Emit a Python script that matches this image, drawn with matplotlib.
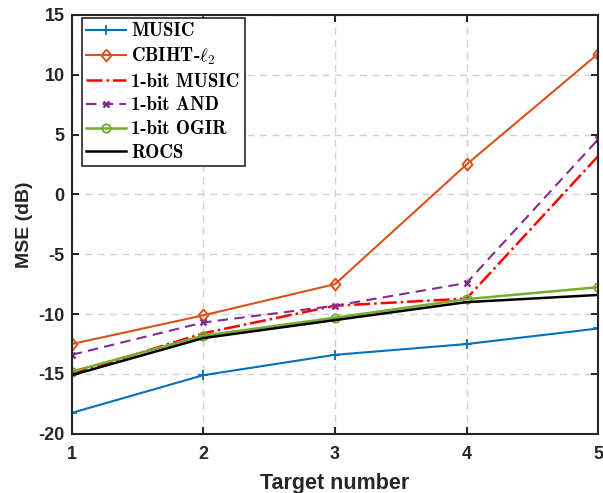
import matplotlib
matplotlib.use("Agg")
import matplotlib.pyplot as plt

plt.rcParams['mathtext.fontset'] = 'cm'
plt.rcParams['axes.unicode_minus'] = False

targets = [1, 2, 3, 4, 5]
mse_music = [-18.25, -15.1, -13.4, -12.5, -11.2]
mse_cbiht = [-12.5, -10.1, -7.5, 2.5, 11.75]
mse_1bit_music = [-15.0, -11.6, -9.3, -8.7, 3.2]
mse_1bit_and = [-13.4, -10.7, -9.3, -7.4, 4.6]
mse_1bit_ogir = [-14.8, -11.8, -10.3, -8.75, -7.75]
mse_rocs = [-15.1, -12.0, -10.5, -9.0, -8.4]

# matlab style diamond
diamond = [(0, 1), (0.85, 0), (0, -1), (-0.85, 0), (0, 1)]

fig = plt.figure(figsize=(6.03, 4.93), dpi=100)
ax = fig.add_axes([0.119, 0.12, 0.873, 0.850])

ax.plot(targets, mse_music, color='#0072BD', marker='+', ms=7, mew=1.3, lw=1.5, label='MUSIC')
ax.plot(targets, mse_cbiht, color='#D95319', marker=diamond, ms=8.5, mfc='none', mew=1.4, lw=1.5,
        label=r'CBIHT-$\ell_2$')
ax.plot(targets, mse_1bit_music, color='red', ls='-.', lw=1.8, label='1-bit MUSIC')
ax.plot(targets, mse_1bit_and, color='#7E2F8E', ls=(0, (5, 3)), marker='x', ms=5, mew=1.8, lw=1.5,
        label='1-bit AND')
ax.plot(targets, mse_1bit_ogir, color='#77AC30', marker='o', ms=6, mfc='none', mew=1.4, lw=1.8,
        label='1-bit OGIR')
ax.plot(targets, mse_rocs, color='black', lw=1.8, label='ROCS')

ax.set_xlim(1, 5)
ax.set_ylim(-20, 15)
ax.set_xticks(targets)
ax.set_yticks(range(-20, 16, 5))
ax.grid(True, ls=(0, (5, 4)), color='#d0d0d0', lw=1)
ax.tick_params(direction='in', top=True, right=True, length=5, width=1.2, labelsize=13,
               labelcolor='#262626')
ax.tick_params(axis='x', pad=9)
ax.tick_params(axis='y', pad=5)
for lab in ax.get_xticklabels() + ax.get_yticklabels():
    lab.set_fontweight('bold')
    lab.set_family('Liberation Sans')
for sp in ax.spines.values():
    sp.set_linewidth(1.5)
    sp.set_color('#262626')

ax.set_xlabel('Target number', fontsize=15.5, fontweight='bold', family='Liberation Sans',
              color='#262626', labelpad=7)
ax.set_ylabel('MSE (dB)', fontsize=14, fontweight='bold', family='Liberation Sans',
              color='#262626', labelpad=4)

leg = ax.legend(loc='upper left', bbox_to_anchor=(0.019, 0.993),
                prop={'family': ['cmb10', 'DejaVu Serif'], 'size': 13.5},
                frameon=True, fancybox=False, edgecolor='#262626', framealpha=1,
                handlelength=2.1, handletextpad=0.3, labelspacing=0.3, borderpad=0.25,
                borderaxespad=0)
leg.get_frame().set_linewidth(1.2)

fig.savefig('out.png', dpi=100)
